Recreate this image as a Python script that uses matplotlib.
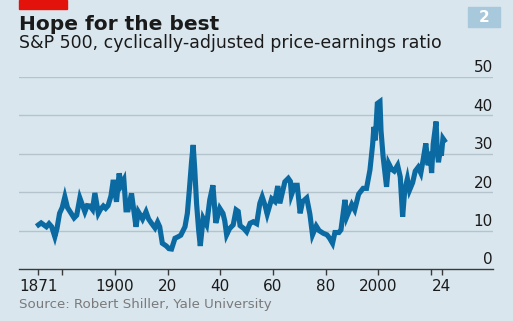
import matplotlib
matplotlib.use("Agg")
import matplotlib.pyplot as plt
import matplotlib.patches as patches

# ---------------------------------------------------------
# data: Shiller CAPE
# ---------------------------------------------------------
years = [
    1871.0, 1872.0, 1873.0, 1874.0, 1875.0, 1876.0, 1877.2, 1878.0, 1879.0, 1880.0,
    1881.0, 1882.0, 1883.0, 1884.5, 1885.5, 1886.7, 1887.5, 1888.6, 1889.5, 1890.5,
    1891.5, 1892.4, 1893.7, 1894.5, 1895.6, 1896.5, 1897.4, 1898.5, 1899.4, 1900.6,
    1901.6, 1902.5, 1903.4, 1904.2, 1905.0, 1906.3, 1907.2, 1908.0, 1908.9, 1909.7,
    1910.5, 1911.8, 1912.8, 1913.9, 1915.2, 1916.2, 1917.0, 1918.0, 1919.5, 1920.5,
    1921.5, 1922.8, 1924.0, 1925.0, 1926.6, 1927.5, 1928.3, 1929.1, 1929.7, 1930.3,
    1931.0, 1931.8, 1932.4, 1933.5, 1934.8, 1936.0, 1937.2, 1938.3, 1939.8, 1941.0,
    1941.7, 1942.4, 1943.5, 1944.9, 1946.0, 1946.8, 1947.5, 1949.0, 1950.0, 1951.3,
    1952.5, 1953.8, 1955.0, 1955.9, 1957.0, 1957.8, 1959.5, 1960.7, 1961.8, 1962.6,
    1964.5, 1965.8, 1966.6, 1967.0, 1968.3, 1969.2, 1970.3, 1971.2, 1972.8, 1974.0,
    1975.0, 1976.4, 1977.5, 1979.1, 1980.5, 1981.5, 1982.6, 1983.5, 1985.0, 1985.8,
    1987.3, 1988.0, 1989.9, 1991.0, 1992.5, 1994.2, 1995.5, 1996.8, 1997.8, 1998.3,
    1998.8, 1999.6, 2000.6, 2001.0, 2001.8, 2002.5, 2003.1, 2003.9, 2005.0, 2006.0,
    2007.3, 2008.3, 2009.2, 2010.0, 2011.0, 2011.8, 2013.0, 2014.0, 2015.1, 2016.1,
    2017.0, 2018.0, 2018.9, 2019.6, 2020.2, 2020.8, 2021.9, 2022.4, 2022.8, 2023.5,
    2023.9, 2024.5, 2025.0,
]
cape = [
    11.5, 12.0, 11.5, 11.0, 11.8, 11.0, 8.4, 10.5, 14.5, 16.0,
    18.8, 16.0, 14.9, 13.3, 14.0, 18.5, 17.0, 14.9, 16.5, 16.4,
    15.5, 19.8, 14.5, 15.5, 16.4, 15.8, 16.5, 19.0, 23.2, 17.5,
    24.9, 22.0, 23.2, 15.4, 15.4, 19.7, 15.0, 11.0, 14.9, 14.0,
    13.0, 14.9, 13.0, 11.9, 10.7, 12.2, 11.0, 6.7, 6.0, 5.3,
    5.2, 8.0, 8.4, 8.8, 11.0, 14.5, 21.0, 28.0, 32.3, 26.0,
    17.0, 10.0, 6.0, 13.2, 11.5, 18.0, 21.8, 12.0, 15.8, 14.5,
    12.5, 8.9, 10.5, 11.5, 15.4, 15.0, 11.3, 10.5, 9.7, 11.9,
    12.3, 11.8, 17.1, 18.8, 16.5, 14.3, 18.3, 17.6, 21.6, 17.1,
    22.7, 23.6, 22.8, 19.3, 21.8, 21.8, 14.5, 17.5, 18.5, 14.3,
    8.9, 11.2, 10.0, 9.3, 8.9, 8.0, 6.7, 9.5, 9.5, 10.2,
    18.0, 13.6, 16.8, 15.4, 19.5, 21.0, 21.0, 25.8, 32.3, 37.0,
    33.5, 43.1, 43.6, 36.0, 29.2, 25.0, 21.4, 27.5, 26.0, 25.5,
    27.0, 24.0, 13.6, 20.5, 23.5, 20.5, 22.5, 25.5, 26.5, 25.0,
    28.5, 32.7, 27.0, 30.5, 25.0, 32.5, 38.4, 30.0, 27.8, 31.0,
    29.5, 34.0, 33.5,
]

tick_years = [1871, 1880, 1900, 1920, 1940, 1960, 1980, 2000, 2020, 2024]
tick_labels = ["1871", "", "1900", "20", "40", "60", "80", "2000", "", "24"]
y_ticks = [0, 10, 20, 30, 40, 50]

title = "Hope for the best"
subtitle = "S&P 500, cyclically-adjusted price-earnings ratio"
source = "Source: Robert Shiller, Yale University"

# ---------------------------------------------------------
# style
# ---------------------------------------------------------
BG = "#d9e6ee"
LINE = "#0b6aa2"
GRID = "#b4c3cc"
AXIS = "#3a3a3a"
TEXT = "#1a1a1a"

W, H = 513, 321
fig = plt.figure(figsize=(W / 100, H / 100), dpi=100, facecolor=BG)

# axes box in pixel terms: x 19..493, y 77 (50) .. 269 (0)
ax = fig.add_axes([19 / W, 1 - 269 / H, (493 - 19) / W, (269 - 77) / H])
ax.set_facecolor(BG)
ax.set_xlim(1863.6, 2043.5)
ax.set_ylim(0, 50)

ytrans = ax.get_yaxis_transform()
for v in y_ticks:
    if v > 0:
        ax.axhline(v, color=GRID, lw=1.0, zorder=1)
    ax.text(1.0, v + 0.4, str(v), transform=ytrans,
            ha="right", va="bottom", fontsize=11, color=TEXT)

ax.plot(years, cape, color=LINE, lw=3.7, solid_joinstyle="miter",
        zorder=3, clip_on=False)

for s in ["top", "right", "left"]:
    ax.spines[s].set_visible(False)
ax.spines["bottom"].set_color(AXIS)
ax.spines["bottom"].set_linewidth(1.0)
ax.set_yticks([])
ax.set_xticks(tick_years)
ax.set_xticklabels(tick_labels, fontsize=11, color=TEXT)
ax.tick_params(axis="x", direction="out", length=4, width=1, color=AXIS, pad=3)

# ---------------------------------------------------------
# header / footer
# ---------------------------------------------------------
fig.patches.append(patches.Rectangle((19 / W, 1 - 9 / H), 48 / W, 9 / H,
                                     transform=fig.transFigure, color="#e3120b"))
fig.patches.append(patches.Rectangle((468 / W, 1 - 27 / H), 32 / W, 20 / H,
                                     transform=fig.transFigure, color="#a8c8dc"))
fig.text(484 / W, 1 - 17 / H, "2", ha="center", va="center",
         fontsize=11, fontweight="bold", color="white")

fig.text(19 / W, 1 - 30 / H, title, ha="left", va="baseline",
         fontsize=14.5, fontweight="bold", color=TEXT)
fig.text(19 / W, 1 - 48 / H, subtitle, ha="left", va="baseline",
         fontsize=12.5, color=TEXT)
fig.text(19 / W, 1 - 308 / H, source, ha="left", va="baseline",
         fontsize=9.6, color="#7a7a7a")

fig.savefig("out.png", dpi=100, facecolor=BG)
